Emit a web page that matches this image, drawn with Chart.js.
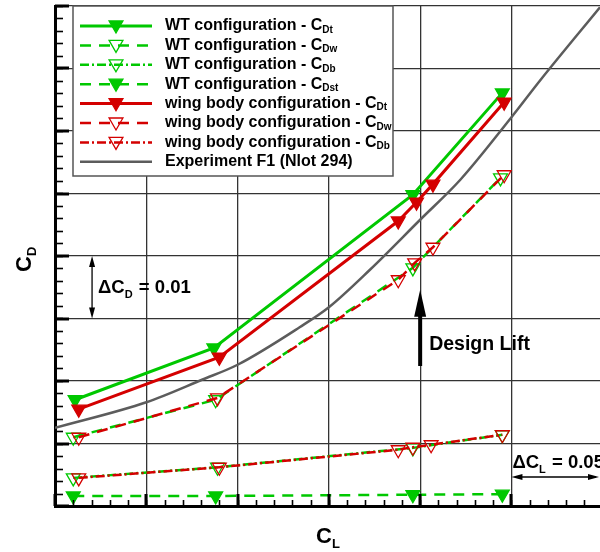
<!DOCTYPE html>
<html>
<head>
<meta charset="utf-8">
<script src="https://cdn.jsdelivr.net/npm/chart.js@4/dist/chart.umd.min.js"></script>
<style>
  html, body { margin: 0; padding: 0; background: #fff; overflow: hidden; }
  #wrap { width: 600px; height: 552px; }
</style>
</head>
<body>
<div id="wrap"><canvas id="c" width="600" height="552"></canvas></div>
<script>
// Valores: CL en x, CD en y.
var clWTt = [0.311, 0.387, 0.496, 0.545];
var cdWTt = [0.0170, 0.0253, 0.0498, 0.0661];
var clWTw = [0.310, 0.388, 0.496, 0.544];
var cdWTw = [0.0110, 0.0170, 0.0381, 0.0525];
var clWTb = [0.310, 0.389, 0.496, 0.545];
var cdWTb = [0.0045, 0.0062, 0.0093, 0.0114];
var clWTst = [0.310, 0.388, 0.496, 0.545];
var cdWTst = [0.0016, 0.0016, 0.0018, 0.0019];

var clWBt = [0.313, 0.390, 0.488, 0.498, 0.507, 0.546];
var cdWBt = [0.0155, 0.0238, 0.0456, 0.0486, 0.0515, 0.0646];
var clWBw = [0.313, 0.389, 0.488, 0.497, 0.507, 0.546];
var cdWBw = [0.0110, 0.0173, 0.0362, 0.0389, 0.0414, 0.0530];
var clWBb = [0.313, 0.390, 0.488, 0.496, 0.506, 0.545];
var cdWBb = [0.0045, 0.0062, 0.0090, 0.0094, 0.0098, 0.0114];

var clExp = [0.300, 0.350, 0.3805, 0.400, 0.434, 0.450, 0.4725, 0.500, 0.522, 0.550, 0.566, 0.5985];
var cdExp = [0.0125, 0.0166, 0.0202, 0.0226, 0.0286, 0.0318, 0.0378, 0.0458, 0.0522, 0.0622, 0.0682, 0.0798];

// Ejes (sin rótulos numéricos en el original)
var clMin = 0.3, clMax = 0.5985, clMayor = 0.05, clMenor = 0.01;
var cdMin = 0, cdMax = 0.08, cdMayor = 0.01, cdMenor = 0.002;
var clGrid = [0.35, 0.40, 0.45, 0.50, 0.55];
var cdGrid = [0.01, 0.02, 0.03, 0.04, 0.05, 0.06, 0.07, 0.08];

var etiquetas = [
  'WT configuration - C_Dt',
  'WT configuration - C_Dw',
  'WT configuration - C_Db',
  'WT configuration - C_Dst',
  'wing body configuration - C_Dt',
  'wing body configuration - C_Dw',
  'wing body configuration - C_Db',
  'Experiment F1 (Nlot 294)'
];

var VERDE = '#00c800', ROJO = '#d40000', GRIS = '#5c5c5c';
var FUENTE = '"Liberation Sans", Arial, sans-serif';

function pts(xs, ys) { return xs.map(function (x, i) { return { x: x, y: ys[i] }; }); }

function serie(i, xs, ys, color, dash, lleno, ancho, orden) {
  return {
    label: etiquetas[i], data: pts(xs, ys), showLine: true,
    borderColor: color, borderWidth: ancho, borderDash: dash,
    pointStyle: 'triangle', rotation: 180, pointRadius: 8, pointHoverRadius: 8,
    pointBorderWidth: 1.3, pointBorderColor: color,
    pointBackgroundColor: lleno ? color : 'rgba(0,0,0,0)',
    order: orden
  };
}

var datasets = [
  serie(0, clWTt, cdWTt, VERDE, [], true, 3, 2),
  serie(1, clWTw, cdWTw, VERDE, [11, 8], false, 2.5, 2),
  serie(2, clWTb, cdWTb, VERDE, [9, 3, 2, 3], false, 2.5, 2),
  serie(3, clWTst, cdWTst, VERDE, [11, 8], true, 2.5, 2),
  serie(4, clWBt, cdWBt, ROJO, [], true, 3, 1),
  serie(5, clWBw, cdWBw, ROJO, [11, 8], false, 2.5, 1),
  serie(6, clWBb, cdWBb, ROJO, [9, 3, 2, 3], false, 2.5, 1),
  {
    label: etiquetas[7], data: pts(clExp, cdExp), showLine: true,
    borderColor: GRIS, borderWidth: 2.5, pointRadius: 0, pointHoverRadius: 0,
    cubicInterpolationMode: 'monotone', order: 3
  }
];

// Texto con subíndices: partes [{t, sub}]
function textoPartes(ctx, x, y, partes, tam, tamSub, baja) {
  partes.forEach(function (p) {
    ctx.font = 'bold ' + (p.sub ? tamSub : tam) + 'px ' + FUENTE;
    ctx.fillText(p.t, x, y + (p.sub ? baja : 0));
    x += ctx.measureText(p.t).width + (p.sub ? 1 : 0);
  });
  return x;
}
function partesDe(s) {
  var k = s.indexOf('_');
  if (k < 0) return [{ t: s }];
  return [{ t: s.slice(0, k) }, { t: s.slice(k + 1), sub: true }];
}

function triangulo(ctx, x, y, r, relleno, color, ancho) {
  ctx.beginPath();
  ctx.moveTo(x, y + r);
  ctx.lineTo(x - r * Math.sin(Math.PI / 3), y - r / 2);
  ctx.lineTo(x + r * Math.sin(Math.PI / 3), y - r / 2);
  ctx.closePath();
  if (relleno) { ctx.fillStyle = color; ctx.fill(); }
  ctx.strokeStyle = color; ctx.lineWidth = ancho; ctx.setLineDash([]); ctx.stroke();
}

function punta(ctx, x, y, ang, largo, ancho) {
  ctx.save();
  ctx.translate(x, y); ctx.rotate(ang);
  ctx.beginPath();
  ctx.moveTo(0, 0); ctx.lineTo(-largo, -ancho / 2); ctx.lineTo(-largo, ancho / 2);
  ctx.closePath(); ctx.fill();
  ctx.restore();
}

var decorado = {
  id: 'decorado',
  afterDraw: function (chart) {
    var ctx = chart.ctx, sx = chart.scales.x, sy = chart.scales.y, a = chart.chartArea;
    var v;
    ctx.save();
    ctx.strokeStyle = '#000'; ctx.fillStyle = '#000';

    // Marcas hacia adentro
    ctx.lineWidth = 3;
    for (v = cdMin; v <= cdMax + 1e-9; v += cdMayor) {
      var py = Math.round(sy.getPixelForValue(v));
      ctx.beginPath(); ctx.moveTo(a.left, py); ctx.lineTo(a.left + 14, py); ctx.stroke();
    }
    for (v = clMin; v <= clMax + 1e-9; v += clMayor) {
      var px = Math.round(sx.getPixelForValue(v));
      ctx.beginPath(); ctx.moveTo(px, a.bottom); ctx.lineTo(px, a.bottom - 12); ctx.stroke();
    }
    ctx.lineWidth = 1.6;
    for (v = cdMin; v <= cdMax + 1e-9; v += cdMenor) {
      var qy = Math.round(sy.getPixelForValue(v)) + 0.5;
      ctx.beginPath(); ctx.moveTo(a.left, qy); ctx.lineTo(a.left + 8, qy); ctx.stroke();
    }
    for (v = clMin; v <= clMax + 1e-9; v += clMenor) {
      var qx = Math.round(sx.getPixelForValue(v)) + 0.5;
      ctx.beginPath(); ctx.moveTo(qx, a.bottom); ctx.lineTo(qx, a.bottom - 6); ctx.stroke();
    }

    // Títulos de ejes
    ctx.textBaseline = 'alphabetic';
    textoPartes(ctx, 316, 543, [{ t: 'C' }, { t: 'L', sub: true }], 22, 13, 5);
    ctx.save();
    ctx.translate(31, 272); ctx.rotate(-Math.PI / 2);
    textoPartes(ctx, 0, 0, [{ t: 'C' }, { t: 'D', sub: true }], 22, 13, 5);
    ctx.restore();

    // ΔCD = 0.01
    var xa = sx.getPixelForValue(0.3203);
    var y1 = sy.getPixelForValue(0.04), y2 = sy.getPixelForValue(0.03);
    ctx.lineWidth = 1.3;
    ctx.beginPath(); ctx.moveTo(xa, y1 + 4); ctx.lineTo(xa, y2 - 4); ctx.stroke();
    punta(ctx, xa, y1, -Math.PI / 2, 11, 6);
    punta(ctx, xa, y2, Math.PI / 2, 11, 6);
    ctx.textBaseline = 'alphabetic';
    textoPartes(ctx, xa + 6, 293, [{ t: '\u0394C' }, { t: 'D', sub: true }, { t: ' = 0.01' }], 18.5, 11, 5);

    // ΔCL = 0.05
    var ya = sy.getPixelForValue(0.00464);
    var x1 = sx.getPixelForValue(0.55), x2 = sx.getPixelForValue(0.5985);
    ctx.beginPath(); ctx.moveTo(x1 + 4, ya); ctx.lineTo(x2 - 4, ya); ctx.stroke();
    punta(ctx, x1, ya, Math.PI, 11, 6);
    punta(ctx, x2 - 1, ya, 0, 11, 6);
    textoPartes(ctx, x1 + 1, 468, [{ t: '\u0394C' }, { t: 'L', sub: true }, { t: ' = 0.05' }], 18.5, 11, 5);

    // Design Lift
    var xd = sx.getPixelForValue(0.5);
    var yb = sy.getPixelForValue(0.0224), yt = sy.getPixelForValue(0.0346);
    ctx.lineWidth = 4;
    ctx.beginPath(); ctx.moveTo(xd, yb); ctx.lineTo(xd, yt + 20); ctx.stroke();
    punta(ctx, xd, yt, -Math.PI / 2, 27, 12);
    ctx.textBaseline = 'middle';
    textoPartes(ctx, xd + 9, 345, [{ t: 'Design Lift' }], 19.5, 11, 0);

    // Leyenda
    var bx = 73, by = 6, bw = 320, bh = 170;
    ctx.fillStyle = '#fff'; ctx.fillRect(bx, by, bw, bh);
    ctx.strokeStyle = '#555'; ctx.lineWidth = 1.5; ctx.strokeRect(bx, by, bw, bh);
    chart.data.datasets.forEach(function (ds, i) {
      var yl = 26 + i * 19.4;
      ctx.save();
      ctx.strokeStyle = ds.borderColor; ctx.lineWidth = ds.borderWidth;
      ctx.setLineDash(ds.borderDash || []);
      ctx.beginPath(); ctx.moveTo(80, yl); ctx.lineTo(152, yl); ctx.stroke();
      ctx.restore();
      if (ds.pointRadius) {
        triangulo(ctx, 116, yl - 1, ds.pointRadius, ds.pointBackgroundColor !== 'rgba(0,0,0,0)', ds.borderColor, ds.pointBorderWidth);
      }
      ctx.fillStyle = '#000'; ctx.textBaseline = 'middle';
      textoPartes(ctx, 165, yl, partesDe(ds.label), 16, 10, 4);
    });
    ctx.restore();
  }
};

var ejeComun = function (min, max, grid) {
  return {
    type: 'linear', min: min, max: max,
    afterBuildTicks: function (ax) { ax.ticks = grid.map(function (v) { return { value: v }; }); },
    ticks: { display: false },
    grid: { color: '#333', lineWidth: 1.3, drawTicks: false },
    border: { display: true, color: '#000', width: 3 }
  };
};

new Chart(document.getElementById('c').getContext('2d'), {
  type: 'scatter',
  data: { datasets: datasets },
  options: {
    responsive: false, animation: false,
    layout: { autoPadding: false, padding: { left: 55, top: 6, right: 0, bottom: 46 } },
    plugins: { legend: { display: false }, tooltip: { enabled: false } },
    scales: {
      x: ejeComun(clMin, clMax, clGrid),
      y: ejeComun(cdMin, cdMax, cdGrid)
    }
  },
  plugins: [decorado]
});
</script>
</body>
</html>
